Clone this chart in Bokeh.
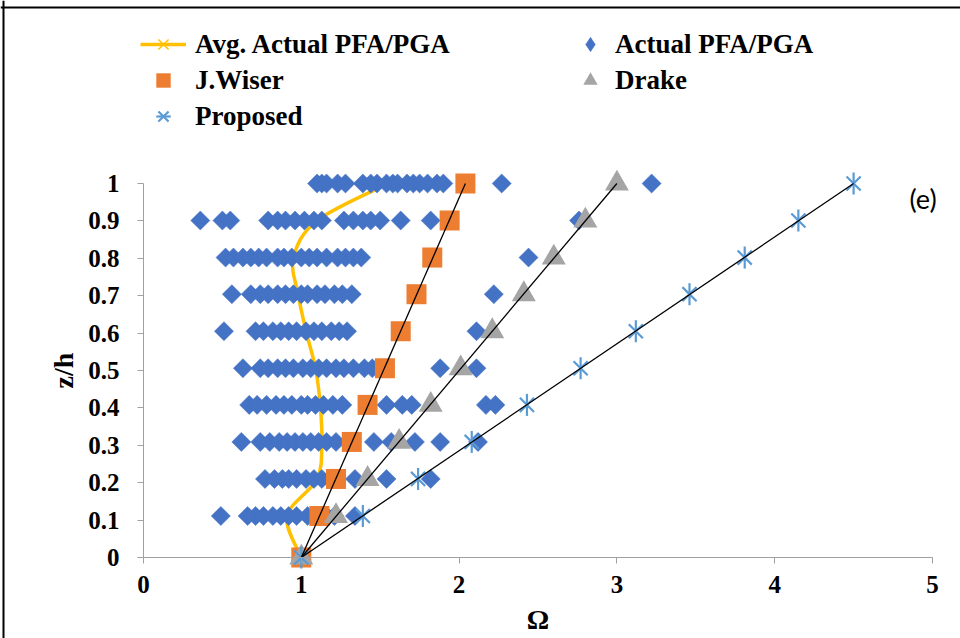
import numpy as np
from bokeh.plotting import figure
from bokeh.models import (Range1d, FixedTicker, Legend, LegendItem, Label,
                          Span, CustomJSTickFormatter)
from bokeh.embed import file_html
from bokeh.resources import INLINE

# ---------------- data ----------------
x_ticks = [0, 1, 2, 3, 4, 5]
y_ticks = [0, 0.1, 0.2, 0.3, 0.4, 0.5, 0.6, 0.7, 0.8, 0.9, 1.0]

z_levels = [0, 0.111, 0.21, 0.309, 0.408, 0.506, 0.605, 0.704, 0.802, 0.901, 1.0]

avg_omega = [1.00, 0.91, 1.10, 1.13, 1.12, 1.09, 1.03, 0.98, 0.95, 1.10, 1.55]
wiser_omega = [1.00, 1.115, 1.22, 1.32, 1.42, 1.53, 1.63, 1.73, 1.83, 1.94, 2.04]
drake_omega = [1.00, 1.22, 1.42, 1.62, 1.82, 2.01, 2.21, 2.41, 2.60, 2.80, 3.00]
proposed_omega = [1.00, 1.39, 1.74, 2.08, 2.43, 2.77, 3.12, 3.46, 3.81, 4.15, 4.50]

act_000 = [1.00]
act_011 = [0.49, 0.66, 0.71, 0.76, 0.82, 0.87, 0.92, 0.97, 1.04, 1.10, 1.16, 1.21, 1.34]
act_021 = [0.77, 0.83, 0.88, 0.92, 0.97, 1.03, 1.08, 1.13, 1.18, 1.34, 1.54, 1.82]
act_031 = [0.62, 0.74, 0.80, 0.86, 0.91, 0.96, 1.01, 1.06, 1.11, 1.16, 1.22, 1.46,
           1.57, 1.72, 1.88, 2.12]
act_041 = [0.67, 0.72, 0.78, 0.84, 0.89, 0.94, 1.00, 1.04, 1.09, 1.14, 1.20, 1.26,
           1.54, 1.64, 1.70, 2.17, 2.23]
act_051 = [0.63, 0.74, 0.79, 0.85, 0.90, 0.95, 1.01, 1.06, 1.11, 1.16, 1.22, 1.27,
           1.33, 1.40, 1.45, 1.88, 2.11]
act_061 = [0.51, 0.71, 0.76, 0.82, 0.87, 0.92, 0.97, 1.03, 1.08, 1.13, 1.19, 1.24,
           1.29, 2.11]
act_070 = [0.56, 0.68, 0.74, 0.79, 0.85, 0.90, 0.95, 1.00, 1.04, 1.10, 1.15, 1.21,
           1.26, 1.32, 2.22]
act_080 = [0.52, 0.57, 0.63, 0.68, 0.73, 0.78, 0.85, 0.89, 0.94, 1.00, 1.05, 1.10,
           1.16, 1.23, 1.28, 1.33, 1.38, 2.44]
act_090 = [0.36, 0.50, 0.55, 0.79, 0.85, 0.90, 0.96, 1.02, 1.08, 1.13, 1.27, 1.33,
           1.39, 1.44, 1.50, 1.63, 1.82, 2.76]
act_100 = [1.10, 1.13, 1.16, 1.23, 1.28, 1.39, 1.44, 1.48, 1.54, 1.58, 1.61, 1.67,
           1.71, 1.75, 1.80, 1.86, 1.90, 2.27, 3.22]

actual_rows = [act_000, act_011, act_021, act_031, act_041, act_051, act_061,
               act_070, act_080, act_090, act_100]
act_x, act_y = [], []
for zl, row in zip(z_levels, actual_rows):
    act_x.extend(row)
    act_y.extend([zl] * len(row))

# ---------------- figure ----------------
W, H = 960, 638
X0_PX, X5_PX = 143.0, 932.0      # pixel positions of x = 0 and x = 5
Y0_PX, Y1_PX = 557.0, 183.0      # pixel positions of y = 0 and y = 1
sx = (X5_PX - X0_PX) / 5.0
sy = (Y0_PX - Y1_PX) / 1.0
x_range = Range1d(-X0_PX / sx, (W - X0_PX) / sx)
y_range = Range1d(-(H - Y0_PX) / sy, 1.0 + Y1_PX / sy)

p = figure(width=W, height=H, output_backend="svg", toolbar_location=None,
           x_range=x_range, y_range=y_range,
           min_border=0, min_border_left=0, min_border_right=0,
           min_border_top=0, min_border_bottom=0)
p.outline_line_color = None
p.grid.visible = False
p.background_fill_color = "white"
p.border_fill_color = "white"

fmt = CustomJSTickFormatter(code="return Number(tick.toFixed(2)).toString();")
AX_GRAY = "#a0a0a0"
for ax in (p.xaxis[0], p.yaxis[0]):
    ax.fixed_location = 0
    ax.formatter = fmt
    ax.axis_line_color = AX_GRAY
    ax.major_tick_line_color = AX_GRAY
    ax.minor_tick_line_color = None
    ax.major_tick_in = 0
    ax.major_tick_out = 6
    ax.major_label_text_font = "Liberation Serif"
    ax.major_label_text_font_style = "bold"
    ax.major_label_text_font_size = "25px"
    ax.major_label_text_color = "black"
    ax.axis_label_text_font = "Liberation Serif"
    ax.axis_label_text_font_style = "bold"
    ax.axis_label_text_font_size = "28px"
    ax.axis_label_text_color = "black"

p.xaxis[0].ticker = FixedTicker(ticks=x_ticks)
p.yaxis[0].ticker = FixedTicker(ticks=y_ticks)
p.xaxis[0].bounds = (0, 5)
p.yaxis[0].bounds = (0, 1)
p.xaxis[0].axis_label = "Ω"
p.yaxis[0].axis_label = "z/h"
p.xaxis[0].major_label_standoff = 12
p.yaxis[0].major_label_standoff = 18
p.xaxis[0].axis_label_standoff = 8
p.yaxis[0].axis_label_standoff = 6

# ---- average curve (smoothed, Excel-like Bezier through the points) ----
P = np.column_stack([avg_omega, z_levels]).astype(float)
n = len(P)
bx0, by0, bx1, by1, cx0, cy0, cx1, cy1 = ([] for _ in range(8))
for i in range(n - 1):
    p0 = P[i - 1] if i > 0 else P[i]
    p1 = P[i]
    p2 = P[i + 1]
    p3 = P[i + 2] if i + 2 < n else P[i + 1]
    c1 = p1 + (p2 - p0) / 6.0
    c2 = p2 - (p3 - p1) / 6.0
    bx0.append(p1[0]); by0.append(p1[1]); bx1.append(p2[0]); by1.append(p2[1])
    cx0.append(c1[0]); cy0.append(c1[1]); cx1.append(c2[0]); cy1.append(c2[1])

YEL = "#FFC000"
BLUE = "#4472C4"
r_avg_line = p.bezier(x0=bx0, y0=by0, x1=bx1, y1=by1, cx0=cx0, cy0=cy0,
                      cx1=cx1, cy1=cy1, line_color=YEL, line_width=3.5)
r_avg_pts = p.scatter(avg_omega, z_levels, marker="x", size=14, line_color=YEL,
                      line_width=1.5)

r_act = p.scatter(act_x, act_y, marker="square", angle=np.pi / 4, size=13.5,
                  fill_color=BLUE, line_color=BLUE, line_width=0.5)
# legend key for the diamonds (ground-level point, hidden under other markers)
r_act_key = p.scatter(act_x[:1], act_y[:1], marker="diamond", size=13,
                      fill_color=BLUE, line_color=BLUE, line_width=0.5)
r_wis = p.scatter(wiser_omega, z_levels, marker="square", size=20,
                  fill_color="#ED7D31", line_color=None)
r_drk = p.scatter(drake_omega, z_levels, marker="triangle", size=24,
                  fill_color="#A5A5A5", line_color=None)
PBL = "#5B9BD5"
r_pro1 = p.scatter(proposed_omega, z_levels, marker="x", size=20, line_color=PBL,
                   line_width=2.2)
r_pro2 = p.scatter(proposed_omega, z_levels, marker="dash", angle=np.pi / 2,
                   size=22, line_color=PBL, line_width=2.2)

for series in (wiser_omega, drake_omega, proposed_omega):
    p.line([series[0], series[-1]], [z_levels[0], z_levels[-1]],
           line_color="black", line_width=1.3)

# ---------------- legends ----------------
def style_legend(lg, gw, standoff):
    lg.label_text_font = "Liberation Serif"
    lg.label_text_font_style = "bold"
    lg.label_text_font_size = "27px"
    lg.label_text_color = "black"
    lg.border_line_color = None
    lg.background_fill_alpha = 0
    lg.padding = 0
    lg.margin = 0
    lg.spacing = 0
    lg.glyph_height = 36
    lg.label_height = 36
    lg.glyph_width = gw
    lg.label_standoff = standoff

leg1 = Legend(items=[
    LegendItem(label="Avg. Actual PFA/PGA", renderers=[r_avg_line, r_avg_pts]),
    LegendItem(label="J.Wiser", renderers=[r_wis]),
    LegendItem(label="Proposed", renderers=[r_pro1, r_pro2]),
], location=(140, 504))
style_legend(leg1, 46, 9)
leg2 = Legend(items=[
    LegendItem(label="Actual PFA/PGA", renderers=[r_act_key]),
    LegendItem(label="Drake", renderers=[r_drk]),
], location=(572, 540))
style_legend(leg2, 36, 7)
p.add_layout(leg1)
p.add_layout(leg2)

p.add_layout(Label(x=4.94, y=0.96, text="(e)", text_font="Lato",
                   text_font_size="27px", text_align="center",
                   text_baseline="middle", text_color="black"))

# outer chart frame (left and top edges visible in the reference)
p.add_layout(Span(location=(3 - X0_PX) / sx, dimension="height",
                  line_color="black", line_width=2))
p.add_layout(Span(location=(Y0_PX - 7) / sy, dimension="width",
                  line_color="black", line_width=2))

open("out.html", "w").write(file_html(p, INLINE))
